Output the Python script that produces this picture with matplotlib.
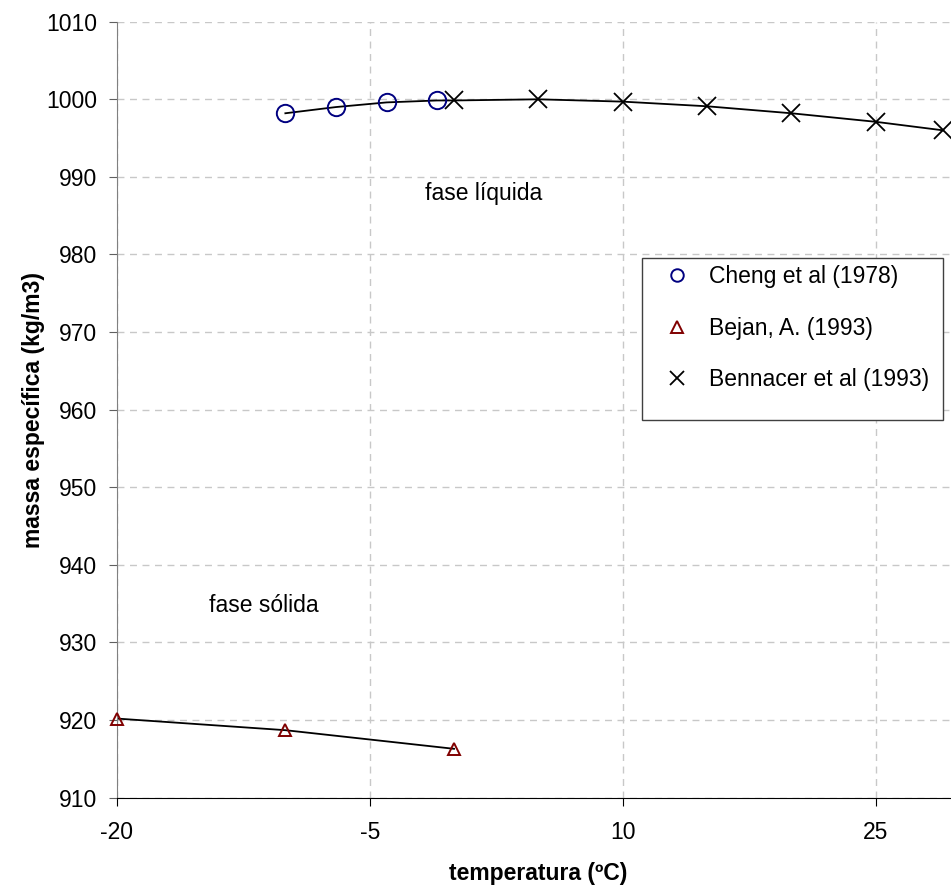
import matplotlib
matplotlib.use("Agg")
import matplotlib.pyplot as plt
from matplotlib.patches import Rectangle

plt.rcParams['font.family'] = ['Liberation Sans', 'DejaVu Sans']
plt.rcParams['axes.unicode_minus'] = False

# densidade da agua liquida (Cheng et al)
cheng_t = [-10, -7, -4, -1]
cheng_rho = [998.2, 999.0, 999.6, 999.85]

# densidade do gelo (Bejan)
bejan_t = [-20, -10, 0]
bejan_rho = [920.2, 918.7, 916.3]

# densidade da agua liquida (Bennacer et al)
benn_t = [0, 5, 10, 15, 20, 25, 29]
benn_rho = [999.85, 1000.0, 999.7, 999.1, 998.2, 997.1, 996.0]

xticks = [-20, -5, 10, 25]
yticks = list(range(910, 1011, 10))

FS = 16.5
W, H = 951, 890
fig = plt.figure(figsize=(W / 100, H / 100), dpi=100)
x0, x1 = 116.7, 960.0
y0, y1 = 797.7, 21.7
ax = fig.add_axes([x0 / W, 1 - y0 / H, (x1 - x0) / W, (y0 - y1) / H])

# linhas de tendencia
ax.plot(cheng_t + benn_t, cheng_rho + benn_rho, color='black', lw=1.3, zorder=2)
ax.plot(bejan_t, bejan_rho, color='black', lw=1.3, zorder=2)

ax.plot(cheng_t, cheng_rho, 'o', ms=12.5, mfc='none', mec='#000080', mew=1.4,
        label='Cheng et al (1978)', zorder=3, clip_on=False)
ax.plot(bejan_t, bejan_rho, '^', ms=8.5, mfc='none', mec='#800000', mew=1.4,
        label='Bejan, A. (1993)', zorder=3, clip_on=False)
ax.plot(benn_t, benn_rho, 'x', ms=13, mec='black', mew=1.3,
        label='Bennacer et al (1993)', zorder=3, clip_on=False)

ax.set_xlim(-20, 30)
ax.set_ylim(910, 1010)
ax.set_xticks(xticks)
ax.set_yticks(yticks)
ax.grid(True, color='#c8c8c8', linestyle=(0, (5, 4)), lw=1)
ax.set_axisbelow(True)

for s in ['top', 'right']:
    ax.spines[s].set_visible(False)
ax.spines['left'].set_color('#808080')
ax.spines['bottom'].set_color('black')
ax.tick_params(axis='x', direction='out', length=5.8, labelsize=FS, pad=11.3)
ax.tick_params(axis='y', direction='out', length=5.8, labelsize=FS, pad=8.4,
               color='#606060')

ax.set_xlabel('temperatura (ºC)', fontsize=FS, fontweight='bold', labelpad=12.5)
ax.set_ylabel('massa específica (kg/m3)', fontsize=FS, fontweight='bold', labelpad=1)

ax.text(-1.7, 987.9, 'fase líquida', fontsize=FS, va='center', ha='left')
ax.text(-14.5, 934.8, 'fase sólida', fontsize=FS, va='center', ha='left')

# caixa da legenda
fig.patches.append(Rectangle((641.7 / W, 1 - 420 / H), (943.3 - 641.7) / W,
                             (420 - 258.3) / H, transform=fig.transFigure,
                             facecolor='white', edgecolor='#404040', lw=1,
                             zorder=5))
leg = fig.legend(loc='upper left', bbox_to_anchor=(654 / W, 1 - 254 / H),
                 frameon=False, fontsize=FS, borderpad=0,
                 labelspacing=1.23, handlelength=1.0, handletextpad=0.9)
for h, ms in zip(leg.legend_handles, [9, 8, 10]):
    h.set_markersize(ms)
leg.set_zorder(6)

fig.savefig('out.png', dpi=100)
